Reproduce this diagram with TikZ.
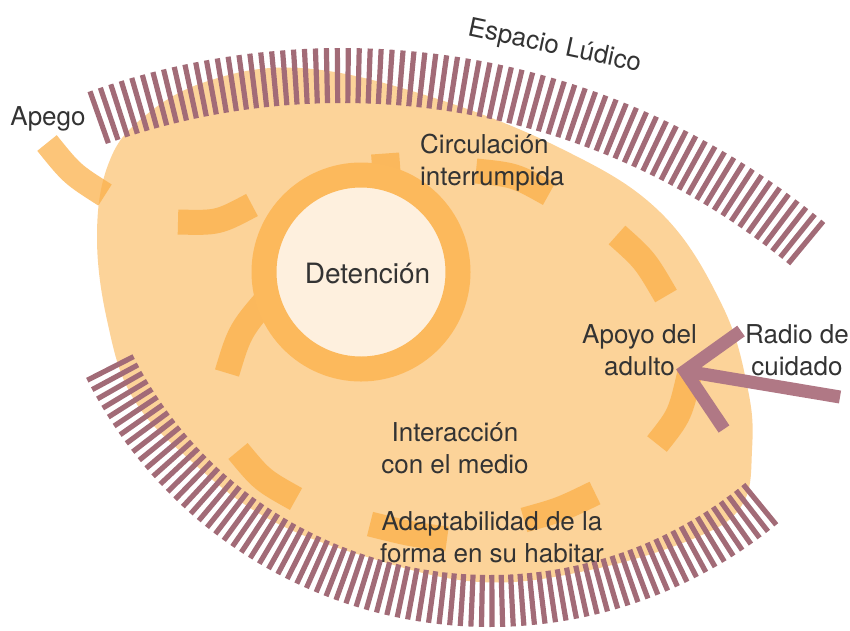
\documentclass[tikz,border=0pt]{standalone}
\usepackage{fontspec}
\setmainfont{TeX Gyre Heros}
\usetikzlibrary{calc}
\definecolor{ludblob}{HTML}{FCD399}
\definecolor{ludring}{HTML}{FCB95C}
\definecolor{ludcore}{HTML}{FEF0DE}
\definecolor{luddash}{HTML}{FBAE45}
\definecolor{ludhatch}{HTML}{A26B77}
\definecolor{ludarrow}{HTML}{B07885}
\definecolor{ludtext}{HTML}{333333}

\begin{document}
\begin{tikzpicture}[x=1pt, y=-1pt,
    every node/.style={align=center, font=\fontsize{26}{31.5}\selectfont, text=ludtext, inner sep=0pt},
    dashseg/.style={draw=luddash, draw opacity=0.72, line width=25pt},
    hatchline/.style={draw=ludhatch, line width=5.2pt},
    radioline/.style={draw=ludarrow, line width=13pt, line join=miter}]
    \useasboundingbox (0,0) rectangle (850,630);

    % espacio
    \fill[ludblob] plot[smooth cycle, tension=0.65] coordinates {
      (97,235) (108,165) (140,120) (205,82) (300,68) (425,95) (560,148)
      (660,212) (722,305) (748,390) (752,450) (742,505) (695,538)
      (590,570) (480,582) (367,557) (267,518) (190,460) (133,398) (107,320)};

    % circulacion interrumpida
    \draw[dashseg] (47,143) .. controls (72,174) .. (105,195);
    \draw[dashseg] (178,222) .. controls (218,223) .. (252,205);
    \draw[dashseg] (372,167) -- (400,165);
    \draw[dashseg] (476,171) .. controls (515,175) .. (549,194);
    \draw[dashseg] (617,235) .. controls (645,260) .. (666,296);
    \draw[dashseg] (690,372) .. controls (680,415) .. (657,444);
    \draw[dashseg] (595,493) .. controls (560,510) .. (524,520);
    \draw[dashseg] (447,539) .. controls (410,534) .. (370,524);
    \draw[dashseg] (296,499) .. controls (262,480) .. (238,451);
    \draw[dashseg] (227,373) .. controls (240,330) .. (275,290);

    % detencion
    \fill[ludcore] (361,272) circle[radius=85];
    \draw[ludring, line width=25pt] (361,272) circle[radius=97];

    % bandas
    \foreach \i in {0,...,71}{
      \pgfmathsetmacro\a{-109.5+\i*0.8324}
      \draw[hatchline, shift={(342,803)}] (\a:700) -- (\a:755);
    }
    \foreach \i in {0,...,76}{
      \pgfmathsetmacro\a{153-\i*1.346}
      \draw[hatchline, shift={(490,175)}] (\a:400) -- (\a:452);
    }

    % radio de cuidado
    \coordinate (tip) at (685,371);
    \coordinate (radioend) at (840,397);
    \coordinate (armtop) at (741,331);
    \coordinate (armbot) at (724,429);
    \draw[radioline] (radioend) -- (tip);
    \draw[radioline] (armtop) -- (tip) -- (armbot);

    \node[anchor=base] (apego) at (48,125) {Apego};
    \node[anchor=base, rotate=-12] (ludico) at (553,53.5) {Espacio Lúdico};
    \node[anchor=base west, align=left] (circ) at (420,185) {Circulación\\interrumpida};
    \node[anchor=base, font=\fontsize{28}{34}\selectfont] (detencion) at (367.5,283) {Detención};
    \node[anchor=base] (apoyo) at (639.5,375) {Apoyo del\\adulto};
    \node[anchor=base] (radiolabel) at (797,375) {Radio de\\cuidado};
    \node[anchor=base] (interaccion) at (455,473) {Interacción\\con el medio};
    \node[anchor=base] (adapt) at (492,562) {Adaptabilidad de la\\forma en su habitar};
\end{tikzpicture}
\end{document}
